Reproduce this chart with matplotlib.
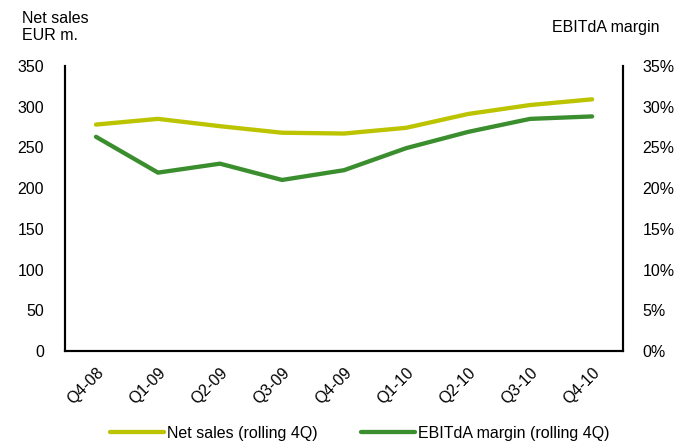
import matplotlib
matplotlib.use('Agg')
import matplotlib.pyplot as plt
from matplotlib.ticker import FuncFormatter

plt.rcParams['font.family'] = ['Liberation Sans', 'DejaVu Sans']
plt.rcParams['font.size'] = 11.5

quarters = ['Q4-08', 'Q1-09', 'Q2-09', 'Q3-09', 'Q4-09', 'Q1-10', 'Q2-10', 'Q3-10', 'Q4-10']
net_sales = [278, 285, 276, 268, 267, 274, 291, 302, 309]
ebitda_margin = [26.3, 21.9, 23.0, 21.0, 22.2, 24.9, 26.9, 28.5, 28.8]

fig = plt.figure(figsize=(6.79, 4.44), dpi=100)
ax = fig.add_axes([0.0957, 0.2095, 0.822, 0.642])
ax2 = ax.twinx()

x = list(range(len(quarters)))
l1, = ax.plot(x, net_sales, color='#BCC400', lw=3.1, solid_capstyle='round')
l2, = ax2.plot(x, ebitda_margin, color='#3A8E2E', lw=3.1, solid_capstyle='round')

ax.set_xlim(-0.5, len(quarters) - 0.5)
ax.set_ylim(0, 350)
ax.set_yticks(range(0, 351, 50))
ax2.set_ylim(0, 35)
ax2.set_yticks(range(0, 36, 5))
ax2.yaxis.set_major_formatter(FuncFormatter(lambda v, p: '%d%%' % v))

ax.set_xticks(x)
ax.set_xticklabels(quarters, rotation=45, ha='right', rotation_mode='anchor')
ax.tick_params(axis='x', length=0, pad=10)
ax.tick_params(axis='y', length=0, pad=15)
ax2.tick_params(axis='y', length=0, pad=14)
for a in (ax, ax2):
    a.spines['top'].set_visible(False)
    for s in ('left', 'right', 'bottom'):
        a.spines[s].set_linewidth(1.5)

fig.text(0.032, 0.975, 'Net sales\nEUR m.', ha='left', va='top', linespacing=1.2)
fig.text(0.972, 0.955, 'EBITdA margin', ha='right', va='top')

fig.legend([l1, l2], ['Net sales (rolling 4Q)', 'EBITdA margin (rolling 4Q)'],
           loc='lower center', bbox_to_anchor=(0.53, -0.025), ncol=2, frameon=False,
           handlelength=3.4, handletextpad=0.2, columnspacing=2.7)

fig.savefig('out.png', dpi=100)
